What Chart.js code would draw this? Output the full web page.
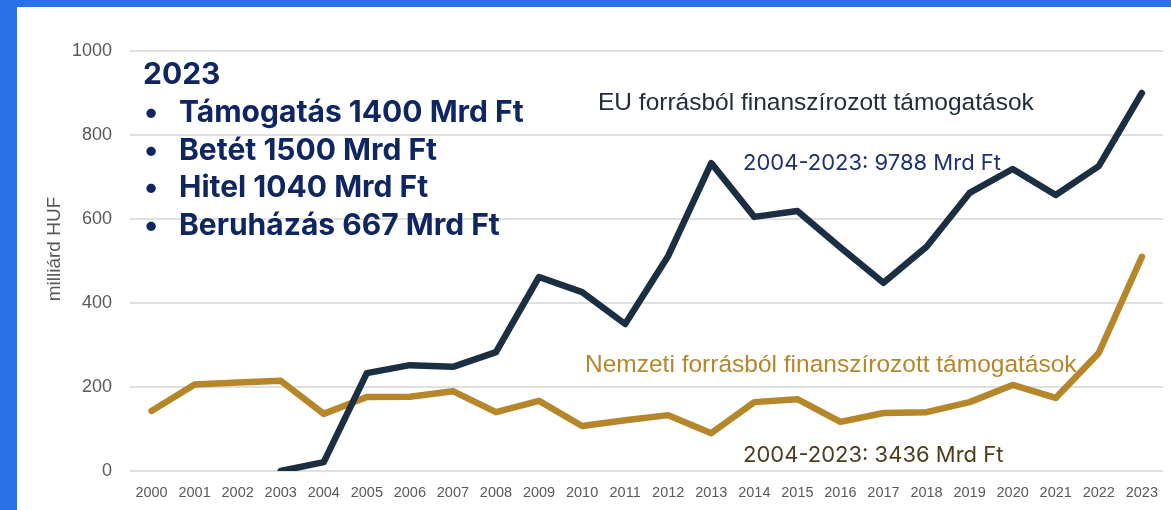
<!DOCTYPE html>
<html>
<head>
<meta charset="utf-8">
<script src="https://cdn.jsdelivr.net/npm/chart.js@4"></script>
<style>
  html, body { margin: 0; padding: 0; }
  body { width: 1171px; height: 510px; background: #2a70e8; position: relative; overflow: hidden; }
  #wrap { position: absolute; left: 17px; top: 7px; width: 1154px; height: 503px; background: #ffffff; }
</style>
</head>
<body>
<div id="wrap"><canvas id="chart" width="1154" height="503"></canvas></div>
<script>
// years on the x axis
const years = ['2000', '2001', '2002', '2003', '2004', '2005', '2006', '2007', '2008', '2009', '2010', '2011',
    '2012', '2013', '2014', '2015', '2016', '2017', '2018', '2019', '2020', '2021', '2022', '2023'];

// EU funded support, billion HUF (starts 2003)
const euValues = [null, null, null, 0, 21, 233, 252, 248, 283, 462, 426, 350,
    512, 733, 605, 619, 532, 448, 534, 662, 719, 657, 726, 900];

// nationally funded support, billion HUF
const nationalValues = [143, 206, 211, 215, 136, 176, 177, 190, 140, 167, 107, 121,
    133, 90, 164, 171, 117, 138, 140, 164, 205, 174, 281, 510];

const yTicks = [0, 200, 400, 600, 800, 1000];

const summaryTitle = '2023';
const summaryLines = ['Támogatás 1400 Mrd Ft', 'Betét 1500 Mrd Ft', 'Hitel 1040 Mrd Ft', 'Beruházás 667 Mrd Ft'];

const DARK = '#1c2f42';
const GOLD = '#b5862a';

// free text on the plot
const textPlugin = {
    id: 'texts',
    afterDatasetsDraw(chart) {
        const c = chart.ctx;
        c.save();
        c.textBaseline = 'alphabetic';
        c.textAlign = 'left';

        c.fillStyle = '#0f2660';
        c.font = 'bold 30px Inter, "Liberation Sans", sans-serif';
        c.fillText(summaryTitle, 126, 77);
        summaryLines.forEach((t, i) => {
            const y = 115 + i * 37.7;
            c.fillText('•', 127, y);
            c.fillText(t, 162, y);
        });

        c.font = '24.5px "Liberation Sans", Arial, sans-serif';
        c.fillStyle = '#222d3b';
        c.fillText('EU forrásból finanszírozott támogatások', 581, 103);
        c.fillStyle = GOLD;
        c.fillText('Nemzeti forrásból finanszírozott támogatások', 568, 365);

        c.font = '22px Inter, "Liberation Sans", sans-serif';
        c.fillStyle = '#1f3070';
        c.fillText('2004-2023: 9788 Mrd Ft', 726, 163);
        c.fillStyle = '#4d3d1c';
        c.fillText('2004-2023: 3436 Mrd Ft', 726, 455);

        // y axis title
        c.translate(38, 242);
        c.rotate(-Math.PI / 2);
        c.textAlign = 'center';
        c.textBaseline = 'middle';
        c.font = '19px "Liberation Sans", Arial, sans-serif';
        c.fillStyle = '#595959';
        c.fillText('milliárd HUF', 0, 0);
        c.restore();
    }
};

const ctx = document.getElementById('chart').getContext('2d');
const chart = new Chart(ctx, {
    type: 'line',
    data: {
        labels: years,
        datasets: [{
            label: 'EU forrásból finanszírozott támogatások',
            data: euValues,
            borderColor: DARK,
            borderWidth: 6.5,
            pointRadius: 0,
            tension: 0,
            borderJoinStyle: 'round',
            borderCapStyle: 'round'
        }, {
            label: 'Nemzeti forrásból finanszírozott támogatások',
            data: nationalValues,
            borderColor: GOLD,
            borderWidth: 6.5,
            pointRadius: 0,
            tension: 0,
            borderJoinStyle: 'round',
            borderCapStyle: 'round'
        }]
    },
    options: {
        responsive: false,
        animation: false,
        layout: { padding: { top: 44, right: 2, left: 0, bottom: 0 } },
        plugins: {
            legend: { display: false },
            tooltip: { enabled: false }
        },
        scales: {
            x: {
                offset: true,
                grid: { display: false, drawTicks: false },
                border: { display: false },
                ticks: {
                    color: '#595959',
                    font: { family: '"Liberation Sans", Arial, sans-serif', size: 14.5 },
                    padding: 13,
                    maxRotation: 0,
                    autoSkip: false
                },
                afterFit(s) { s.height = 39; }
            },
            y: {
                min: 0,
                max: 1000,
                afterBuildTicks(s) { s.ticks = yTicks.map(v => ({ value: v })); },
                grid: { color: '#e0e0e0', lineWidth: 2, drawTicks: false },
                border: { display: false },
                ticks: {
                    color: '#595959',
                    font: { family: '"Liberation Sans", Arial, sans-serif', size: 18 },
                    padding: 18,
                    callback: v => String(v)
                },
                afterFit(s) { s.width = 113; }
            }
        }
    },
    plugins: [textPlugin]
});
</script>
</body>
</html>
